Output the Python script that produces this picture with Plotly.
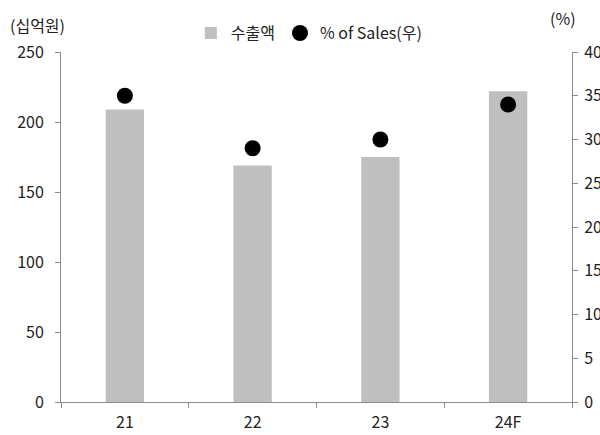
import plotly.graph_objects as go

categories = ["21", "22", "23", "24F"]
export_values = [209, 169, 175, 222]
sales_pct = [35, 29, 30, 34]
left_ticks = [0, 50, 100, 150, 200, 250]
right_ticks = [0, 5, 10, 15, 20, 25, 30, 35, 40]

FONT = "Noto Sans CJK KR"
AX = "#8c8c8c"
TXT = "#222222"

fig = go.Figure()
fig.add_trace(go.Bar(
    x=categories, y=export_values, name="수출액",
    marker=dict(color="#bfbfbf", line=dict(width=0)),
    width=0.3, yaxis="y",
))
fig.add_trace(go.Scatter(
    x=categories, y=sales_pct, name="% of Sales(우)", mode="markers",
    marker=dict(color="#000000", size=16, symbol="circle"),
    yaxis="y2",
))

fig.update_layout(
    width=600, height=435,
    margin=dict(l=61, r=28, t=52, b=33),
    paper_bgcolor="white", plot_bgcolor="white",
    font=dict(family=FONT, size=16, color=TXT),
    showlegend=True,
    legend=dict(orientation="h", x=0.485, xanchor="center", y=1.054, yanchor="middle",
                font=dict(family=FONT, size=16, color=TXT),
                itemwidth=30, tracegroupgap=0, bgcolor="rgba(0,0,0,0)"),
    xaxis=dict(
        type="category", showgrid=False, showline=True, linecolor=AX, linewidth=1,
        ticks="outside", tickcolor=AX, ticklen=5, tickson="boundaries",
        ticklabelstandoff=6,
        tickfont=dict(family=FONT, size=16, color=TXT),
        automargin=False,
    ),
    yaxis=dict(
        range=[0, 250], tickvals=left_ticks, showgrid=False, zeroline=False,
        showline=True, linecolor=AX, linewidth=1, ticks="outside", tickcolor=AX,
        ticklen=5, ticklabelstandoff=8,
        tickfont=dict(family=FONT, size=16, color=TXT), automargin=False,
    ),
    yaxis2=dict(
        range=[0, 40], tickvals=right_ticks, overlaying="y", side="right",
        showgrid=False, zeroline=False, showline=True, linecolor=AX, linewidth=1,
        ticks="outside", tickcolor=AX, ticklen=5, ticklabelstandoff=3,
        tickfont=dict(family=FONT, size=16, color=TXT), automargin=False,
    ),
    annotations=[
        dict(text="(십억원)", xref="paper", yref="paper", x=-0.104, y=1.077,
             xanchor="left", yanchor="middle", showarrow=False,
             font=dict(family=FONT, size=16, color=TXT)),
        dict(text="(%)", xref="paper", yref="paper", x=0.953, y=1.097,
             xanchor="left", yanchor="middle", showarrow=False,
             font=dict(family=FONT, size=16, color=TXT)),
    ],
)

fig.write_html("out.html")
